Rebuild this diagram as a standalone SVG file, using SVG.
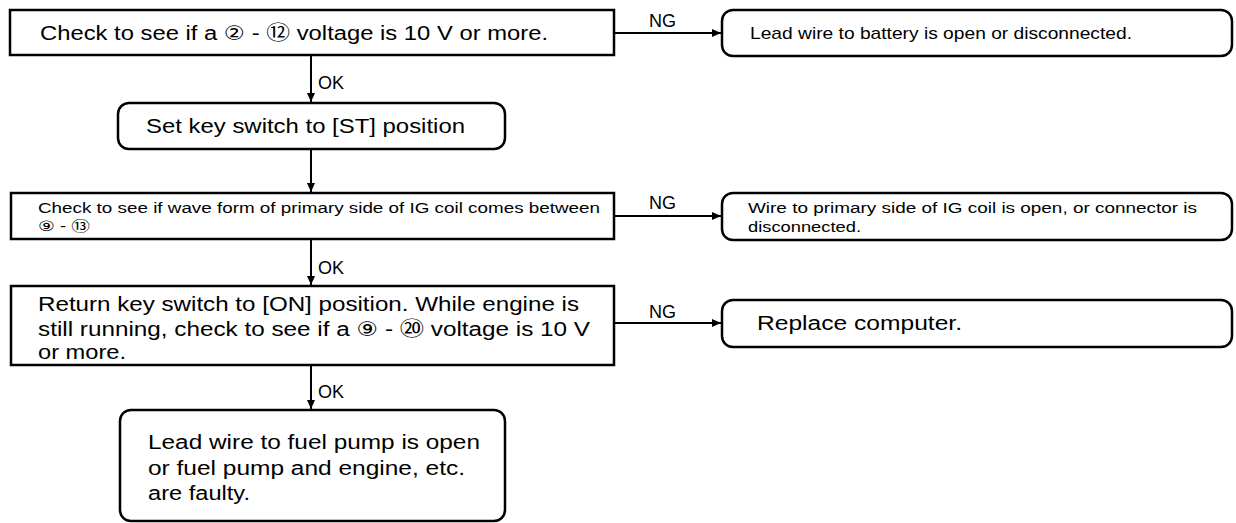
<svg xmlns="http://www.w3.org/2000/svg" width="1236" height="523" viewBox="0 0 1236 523">
<style>
.box{fill:#fff;stroke:#000;stroke-width:2.5}
.t{font-family:"Liberation Sans","DejaVu Sans","Noto Sans CJK JP",sans-serif;fill:#000}
.big{font-size:20px}
.sm{font-size:17px}
.xs{font-size:14px}
.lbl{font-family:"Liberation Sans",sans-serif;font-size:18px;fill:#000}
.c{fill:none;stroke:#000;stroke-width:2}
</style>
<defs>
<marker id="ah" markerWidth="10" markerHeight="10" refX="9" refY="5" orient="auto" markerUnits="userSpaceOnUse">
<path d="M0,1 L9,5 L0,9 Z" fill="#000"/>
</marker>
</defs>
<rect width="1236" height="523" fill="#fff"/>
<g id="connectors">
<line class="c" x1="614" y1="33" x2="721" y2="33" marker-end="url(#ah)"/>
<line class="c" x1="311" y1="56" x2="311" y2="102" marker-end="url(#ah)"/>
<line class="c" x1="311" y1="149" x2="311" y2="192" marker-end="url(#ah)"/>
<line class="c" x1="614" y1="216" x2="721" y2="216" marker-end="url(#ah)"/>
<line class="c" x1="311" y1="240" x2="311" y2="285" marker-end="url(#ah)"/>
<line class="c" x1="614" y1="323" x2="721" y2="323" marker-end="url(#ah)"/>
<line class="c" x1="311" y1="366" x2="311" y2="409" marker-end="url(#ah)"/>
<text class="lbl" x="649" y="27">NG</text>
<text class="lbl" x="318" y="89">OK</text>
<text class="lbl" x="649" y="209">NG</text>
<text class="lbl" x="318" y="274">OK</text>
<text class="lbl" x="649" y="318">NG</text>
<text class="lbl" x="318" y="398">OK</text>
</g>
<g id="n1">
<rect class="box" x="10" y="10" width="604" height="45"/>
<text class="t big" x="40" y="40" textLength="508" lengthAdjust="spacingAndGlyphs">Check to see if a ② - ⑫ voltage is 10 V or more.</text>
</g>
<g id="n2">
<rect class="box" x="722" y="10" width="510" height="46" rx="11"/>
<text class="t sm" x="750" y="39" textLength="382" lengthAdjust="spacingAndGlyphs">Lead wire to battery is open or disconnected.</text>
</g>
<g id="n3">
<rect class="box" x="118" y="103" width="387" height="46" rx="11"/>
<text class="t big" x="146" y="133" textLength="319" lengthAdjust="spacingAndGlyphs">Set key switch to [ST] position</text>
</g>
<g id="n4">
<rect class="box" x="11" y="193" width="603" height="46"/>
<text class="t xs" x="38" y="213" textLength="562" lengthAdjust="spacingAndGlyphs">Check to see if wave form of primary side of IG coil comes between</text>
<text class="t xs" x="38" y="231" textLength="52" lengthAdjust="spacingAndGlyphs">⑨ - ⑬</text>
</g>
<g id="n5">
<rect class="box" x="722" y="193" width="510" height="47" rx="11"/>
<text class="t xs" x="748" y="213" textLength="449" lengthAdjust="spacingAndGlyphs">Wire to primary side of IG coil is open, or connector is</text>
<text class="t xs" x="748" y="232" textLength="113" lengthAdjust="spacingAndGlyphs">disconnected.</text>
</g>
<g id="n6">
<rect class="box" x="11" y="286" width="603" height="79"/>
<text class="t big" x="38" y="311" textLength="541" lengthAdjust="spacingAndGlyphs">Return key switch to [ON] position. While engine is</text>
<text class="t big" x="38" y="336" textLength="552" lengthAdjust="spacingAndGlyphs">still running, check to see if a ⑨ - ⑳ voltage is 10 V</text>
<text class="t big" x="38" y="359" textLength="88" lengthAdjust="spacingAndGlyphs">or more.</text>
</g>
<g id="n7">
<rect class="box" x="722" y="300" width="510" height="47" rx="11"/>
<text class="t big" x="757" y="330" textLength="205" lengthAdjust="spacingAndGlyphs">Replace computer.</text>
</g>
<g id="n8">
<rect class="box" x="120" y="410" width="385" height="111" rx="11"/>
<text class="t big" x="148" y="449" textLength="332" lengthAdjust="spacingAndGlyphs">Lead wire to fuel pump is open</text>
<text class="t big" x="148" y="475" textLength="317" lengthAdjust="spacingAndGlyphs">or fuel pump and engine, etc.</text>
<text class="t big" x="148" y="500" textLength="102" lengthAdjust="spacingAndGlyphs">are faulty.</text>
</g>
</svg>
